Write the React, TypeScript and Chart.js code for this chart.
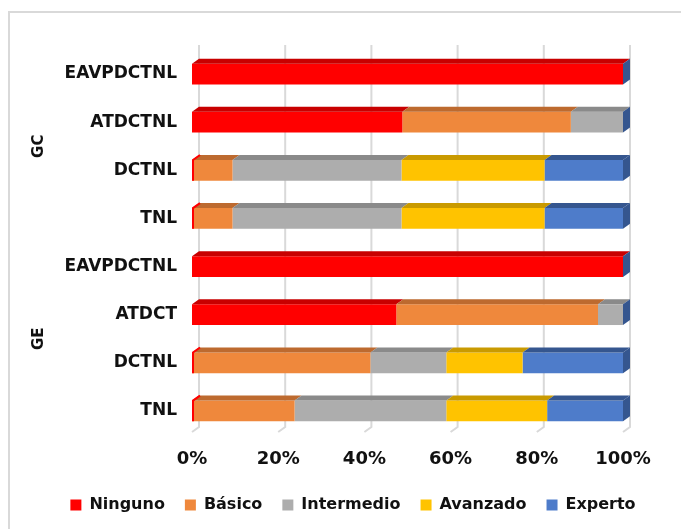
import React, { useEffect, useRef } from 'react';
import { Chart, registerables } from 'chart.js';

Chart.register(...registerables);

// ---- data ----
const categories = ['EAVPDCTNL', 'ATDCTNL', 'DCTNL', 'TNL', 'EAVPDCTNL', 'ATDCT', 'DCTNL', 'TNL'];
const groupLabels = ['GC', 'GE'];
const groupSizes = [4, 4];
const seriesNames = ['Ninguno', 'Básico', 'Intermedio', 'Avanzado', 'Experto'];
const ninguno = [100, 48.8, 0, 0, 100, 47.4, 0, 0];
const basico = [0, 39.1, 9.4, 9.4, 0, 46.8, 41.4, 23.8];
const intermedio = [0, 12.1, 39.2, 39.2, 0, 5.8, 17.6, 35.2];
const avanzado = [0, 0, 33.2, 33.2, 0, 0, 17.7, 23.4];
const experto = [0, 0, 18.2, 18.2, 0, 0, 23.3, 17.6];
const xTicks = [0, 20, 40, 60, 80, 100];

// ---- styles ----
const frontColors = ['#FF0000', '#EF883C', '#ADADAD', '#FFC300', '#4E7CCA'];
const topColors = ['#C80000', '#BD6A2F', '#8A8A8A', '#C99A00', '#35568F'];
const DX = 7;
const DY = -5;
const FONT = '"DejaVu Sans", Verdana, sans-serif';
const TEXT = '#111111';

const borderPlugin = {
  id: 'outerBorder',
  beforeDraw(chart: any) {
    const ctx = chart.ctx;
    ctx.save();
    ctx.strokeStyle = '#D9D9D9';
    ctx.lineWidth = 2;
    ctx.beginPath();
    ctx.moveTo(9, chart.height + 2);
    ctx.lineTo(9, 12);
    ctx.lineTo(chart.width + 2, 12);
    ctx.stroke();
    ctx.restore();
  },
};

const wallPlugin = {
  id: 'wall',
  beforeDatasetsDraw(chart: any) {
    const { ctx, chartArea, scales } = chart;
    const x = scales.x;
    const floor = chartArea.bottom - 3;
    ctx.save();
    ctx.strokeStyle = '#D9D9D9';
    ctx.lineWidth = 2;
    for (const v of xTicks) {
      const px = x.getPixelForValue(v);
      ctx.beginPath();
      ctx.moveTo(px + DX, chartArea.top + DY);
      ctx.lineTo(px + DX, floor + DY);
      ctx.lineTo(px, floor);
      ctx.stroke();
    }
    ctx.restore();
  },
};

const threeDPlugin = {
  id: 'threeD',
  afterDatasetsDraw(chart: any) {
    const ctx = chart.ctx;
    const n = chart.data.datasets.length;
    ctx.save();
    for (let i = 0; i < n; i++) {
      const meta = chart.getDatasetMeta(i);
      meta.data.forEach((bar: any) => {
        const p = bar.getProps(['x', 'y', 'base', 'height'], true);
        const x0 = Math.min(p.x, p.base);
        const x1 = Math.max(p.x, p.base);
        const t = p.y - p.height / 2;
        if (x1 - x0 > 0.05) {
          ctx.fillStyle = topColors[i];
          ctx.beginPath();
          ctx.moveTo(x0, t);
          ctx.lineTo(x1, t);
          ctx.lineTo(x1 + DX, t + DY);
          ctx.lineTo(x0 + DX, t + DY);
          ctx.closePath();
          ctx.fill();
        }
      });
    }
    // right side faces and zero-width left edges
    const last = chart.getDatasetMeta(n - 1);
    const first = chart.getDatasetMeta(0);
    last.data.forEach((bar: any, j: number) => {
      const p = bar.getProps(['x', 'y', 'base', 'height'], true);
      const x1 = Math.max(p.x, p.base);
      const t = p.y - p.height / 2;
      const b = p.y + p.height / 2;
      ctx.fillStyle = topColors[n - 1];
      ctx.beginPath();
      ctx.moveTo(x1, t);
      ctx.lineTo(x1 + DX, t + DY);
      ctx.lineTo(x1 + DX, b + DY);
      ctx.lineTo(x1, b);
      ctx.closePath();
      ctx.fill();
      const f = first.data[j].getProps(['x', 'base'], true);
      if (Math.abs(f.x - f.base) < 0.05) {
        ctx.strokeStyle = frontColors[0];
        ctx.lineWidth = 2;
        ctx.beginPath();
        ctx.moveTo(f.base + 1, b);
        ctx.lineTo(f.base + 1, t);
        ctx.lineTo(f.base + 1 + DX, t + DY);
        ctx.stroke();
      }
    });
    ctx.restore();
  },
};

const groupPlugin = {
  id: 'groupLabels',
  afterDraw(chart: any) {
    const { ctx, scales } = chart;
    const y = scales.y;
    let start = 0;
    ctx.save();
    ctx.font = `bold 15px ${FONT}`;
    ctx.fillStyle = TEXT;
    ctx.textAlign = 'center';
    ctx.textBaseline = 'middle';
    groupLabels.forEach((g, i) => {
      const end = start + groupSizes[i] - 1;
      const yc = (y.getPixelForValue(start) + y.getPixelForValue(end)) / 2;
      ctx.save();
      ctx.translate(39, yc);
      ctx.rotate(-Math.PI / 2);
      ctx.fillText(g, 0, 0);
      ctx.restore();
      start = end + 1;
    });
    ctx.restore();
  },
};

export default function App() {
  const ref = useRef<HTMLCanvasElement | null>(null);

  useEffect(() => {
    if (!ref.current) return;
    const series = [ninguno, basico, intermedio, avanzado, experto];
    const chart = new Chart(ref.current, {
      type: 'bar',
      data: {
        labels: categories,
        datasets: series.map((d, i) => ({
          label: seriesNames[i],
          data: d,
          backgroundColor: frontColors[i],
          borderWidth: 0,
          barPercentage: 0.43,
          categoryPercentage: 1,
          xAxisID: 'x',
          yAxisID: 'y',
        })),
      },
      options: {
        indexAxis: 'y',
        responsive: false,
        animation: false,
        layout: { padding: { left: 25, right: 0, top: 50, bottom: 6 } },
        scales: {
          y: {
            type: 'category',
            position: 'left',
            stacked: true,
            grid: { display: false, drawTicks: false },
            border: { display: false },
            ticks: { padding: 15, color: TEXT, font: { family: FONT, size: 17, weight: 'bold' } },
            afterFit: (s: any) => { s.width = 167; },
          },
          yr: {
            type: 'category',
            position: 'right',
            grid: { display: false, drawTicks: false },
            border: { display: false },
            ticks: { display: false },
            afterFit: (s: any) => { s.width = 58; },
          },
          x: {
            type: 'linear',
            position: 'bottom',
            stacked: true,
            min: 0,
            max: 100,
            grid: { display: false, drawTicks: false },
            border: { display: false },
            ticks: {
              stepSize: 20,
              padding: 14,
              color: TEXT,
              font: { family: FONT, size: 18, weight: 'bold' },
              callback: (v: any) => `${v}%`,
            },
            afterFit: (s: any) => { s.height = 42; },
          },
        },
        plugins: {
          legend: {
            position: 'bottom',
            labels: {
              boxWidth: 11,
              boxHeight: 11,
              padding: 20,
              color: TEXT,
              font: { family: FONT, size: 16, weight: 'bold' },
            },
          },
          tooltip: { enabled: false },
        },
      } as any,
      plugins: [borderPlugin, wallPlugin, threeDPlugin, groupPlugin],
    });
    return () => chart.destroy();
  }, []);

  return (
    <div style={{ position: 'absolute', left: 0, top: 0, width: 681, height: 529, background: '#fff' }}>
      <canvas ref={ref} width={681} height={529} />
    </div>
  );
}
